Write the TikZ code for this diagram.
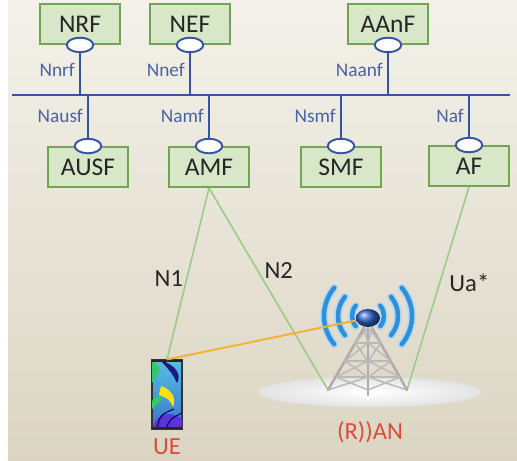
\documentclass[tikz,border=0pt]{standalone}
\usepackage{fontspec}
\setmainfont{Carlito}
\usepackage{tikz}
\usetikzlibrary{positioning}
\usetikzlibrary{shapes.geometric}
\usepackage{xcolor}

\definecolor{nfgreen}{HTML}{D7E7C8}
\definecolor{nfedge}{HTML}{72A454}
\definecolor{sbablue}{HTML}{3654A3}
\definecolor{sbatext}{HTML}{4B62A4}
\definecolor{linkgreen}{HTML}{9CCB86}
\definecolor{radioorange}{HTML}{F2B233}
\definecolor{anred}{HTML}{DD4B3A}
\definecolor{bgtop}{HTML}{F3F1EA}
\definecolor{bgbottom}{HTML}{DCD5C3}
\definecolor{airblue}{HTML}{2E8FDA}
\definecolor{domeblue}{HTML}{2F63CC}
\definecolor{screentop}{HTML}{52C0E2}
\definecolor{screenbottom}{HTML}{3C74CC}

\tikzset{
  nf/.style={draw=nfedge, line width=1.1pt, fill=nfgreen, minimum width=16mm,
    minimum height=8mm, font=\fontsize{14.5}{16}\selectfont, text=black!85},
  port/.style={ellipse, draw=sbablue, line width=1.1pt, fill=white,
    minimum width=5.3mm, minimum height=2.9mm, inner sep=0pt},
  bus/.style={draw=sbablue, line width=1.3pt},
  sba/.style={text=sbatext, font=\fontsize{11}{13}\selectfont, inner sep=1.5pt},
  link/.style={draw=linkgreen, line width=0.9pt},
  linklabel/.style={text=black!85, font=\fontsize{14}{16}\selectfont, inner sep=1pt},
  anlabel/.style={text=anred, font=\fontsize{14}{16}\selectfont},
  mast/.style={draw=gray!65, line width=0.5mm, line cap=round},
  strut/.style={draw=gray!55, line width=0.3mm},
  airwave/.style={draw=airblue, line width=0.9mm, line cap=round},
  airglow/.style={draw=airblue!35, line width=1.6mm, line cap=round},
}

\begin{document}
\begin{tikzpicture}[x=0.2mm, y=0.2mm]
    \useasboundingbox (0,0) rectangle (517,461);
    % backdrop
    \shade[top color=bgtop, bottom color=bgbottom] (8,0) rectangle (517,461);

    % Network functions above the bus
    \node[nf] (nrf) at (80,437) {NRF};
    \node[nf] (nef) at (190,437) {NEF};
    \node[nf] (aanf) at (388,437) {AAnF};
    \node[port] (nrfp) at (nrf.south) {};
    \node[port] (nefp) at (nef.south) {};
    \node[port] (aanfp) at (aanf.south) {};

    % Network functions below the bus
    \node[nf] (ausf) at (88,294) {AUSF};
    \node[nf] (amf) at (209,294) {AMF};
    \node[nf] (smf) at (341,294) {SMF};
    \node[nf] (af) at (469,295) {AF};
    \node[port] (ausfp) at (ausf.north) {};
    \node[port] (amfp) at (amf.north) {};
    \node[port] (smfp) at (smf.north) {};
    \node[port] (afp) at (af.north) {};

    % Service based interface bus
    \coordinate (busW) at (12,366);
    \coordinate (busE) at (510,366);
    \draw[bus] (busW) -- (busE);
    \draw[bus] (nrfp.south) -- (nrfp |- busW) node[sba, pos=0.4, left=0.8pt] {Nnrf};
    \draw[bus] (nefp.south) -- (nefp |- busW) node[sba, pos=0.4, left=0.8pt] {Nnef};
    \draw[bus] (aanfp.south) -- (aanfp |- busW) node[sba, pos=0.4, left=0.8pt] {Naanf};
    \draw[bus] (ausfp |- busW) -- (ausfp.north) node[sba, midway, left=0.8pt] {Nausf};
    \draw[bus] (amfp |- busW) -- (amfp.north) node[sba, midway, left=0.8pt] {Namf};
    \draw[bus] (smfp |- busW) -- (smfp.north) node[sba, midway, left=0.8pt] {Nsmf};
    \draw[bus] (afp |- busW) -- (afp.north) node[sba, midway, left=0.8pt] {Naf};

    % Ground patch under the mast
    \shade[inner color=white, outer color=gray!22] (370,69) ellipse [x radius=112, y radius=15];

    % Handset
    \node[draw=black!80, line width=0.6pt, top color=screentop, bottom color=screenbottom,
      minimum width=6mm, minimum height=13.8mm, inner sep=0pt] (ue) at (167,66.5) {};
    \begin{scope}
      \clip (ue.south west) rectangle (ue.north east);
      \fill[teal!55!green!80] (152,101) .. controls (162,92) .. (152,78) -- cycle;
      \fill[blue!45!black!90] (160,101) .. controls (176,96) and (182,86) .. (177,78)
        .. controls (172,88) .. (160,101);
      \fill[yellow!85!orange] (161,75) .. controls (171,72) and (177,63) .. (173,54)
        .. controls (169,62) .. (159,66) -- cycle;
      \fill[teal!50!green!80] (152,60) .. controls (158,66) .. (163,62) -- (152,52) -- cycle;
      \fill[blue!60!violet!80] (152,32) .. controls (158,50) and (170,50) .. (182,42) -- (182,32) -- cycle;
      \draw[blue!40!black, line width=0.6pt] (157,32) .. controls (160,46) .. (174,52);
      \draw[blue!40!black, line width=0.6pt] (166,32) .. controls (170,42) .. (182,48);
    \end{scope}
    \fill[black!85] (152,99) rectangle (182,101);
    \fill[black!85] (152,32) rectangle (182,34);
    \node[anlabel] (uelabel) at (167,14) {UE};

    % Mast anchors
    \coordinate (mastL) at (328,71);
    \coordinate (mastR) at (407,71);

    % Reference points
    \draw[link] (amf.south) -- (ue.north) node[linklabel, pos=0.53, left=0.7pt] {N1};
    \draw[link] (amf.south) -- (mastL) node[linklabel, pos=0.41, right=2.4pt] {N2};
    \draw[link] (af.south) -- (mastR) node[linklabel, pos=0.47, right=4pt] {Ua*};

    % Lattice mast
    \draw[mast] (364,133) -- (mastL);
    \draw[mast] (372,133) -- (mastR);
    \draw[mast] (368,133) -- (368,66);
    \foreach \ya/\la/\ra/\yb/\lb/\rb in {133/364/372/118/355/381, 118/355/381/100/345/391,
        100/345/391/84/336/400, 84/336/400/71/328/407}
      \draw[strut] (\la,\ya) -- (368,\yb) -- (\ra,\ya) (\lb,\yb) -- (368,\ya) -- (\rb,\yb);
    \foreach \y/\l/\r in {118/355/381, 100/345/391, 84/336/400}
      \draw[strut] (\l,\y) -- (\r,\y);

    % Radio waves
    \foreach \r in {16,30,44} {
      \draw[airglow] (368,145) ++(140:\r) arc[start angle=140, end angle=220, radius=\r];
      \draw[airglow] (368,145) ++(-40:\r) arc[start angle=-40, end angle=40, radius=\r];
      \draw[airwave] (368,145) ++(140:\r) arc[start angle=140, end angle=220, radius=\r];
      \draw[airwave] (368,145) ++(-40:\r) arc[start angle=-40, end angle=40, radius=\r];
    }

    % Radio link to the handset
    \node[ellipse, minimum width=4.8mm, minimum height=3.6mm, inner sep=0pt] (dome) at (368,143) {};
    \draw[radioorange, line width=1.1pt] (ue.north) -- (dome.center);
    \shade[ball color=domeblue] (dome.center) ellipse [x radius=12, y radius=9];

    \node[anlabel] (anlabel) at (370,29) {(R))AN};
\end{tikzpicture}
\end{document}
